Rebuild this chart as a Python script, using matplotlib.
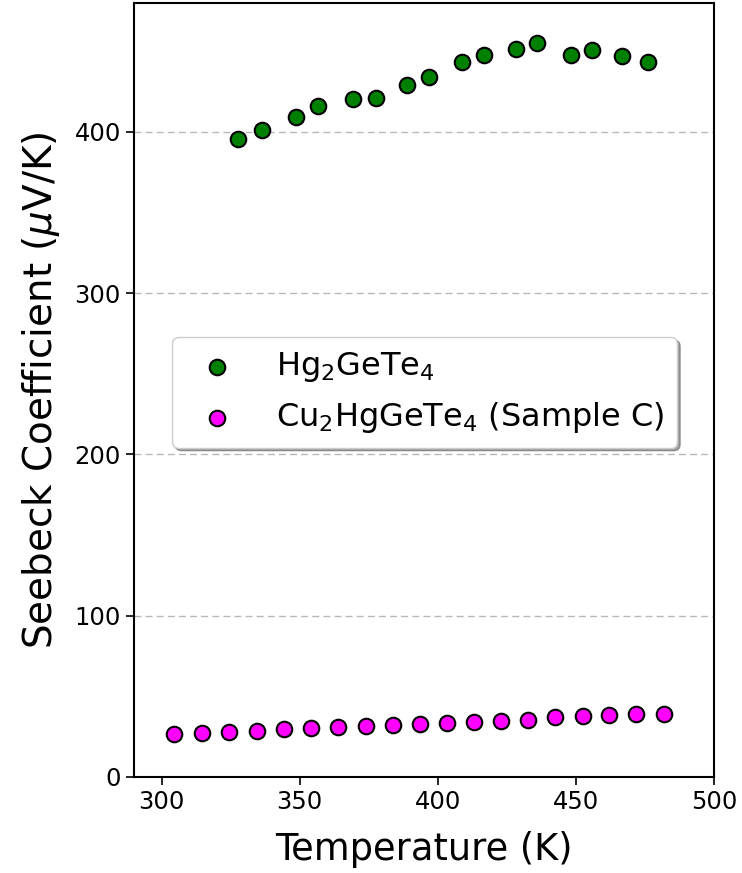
import matplotlib
matplotlib.use("Agg")
import matplotlib.pyplot as plt

# Hg2GeTe4
t_hg = [327.7, 336.3, 348.7, 356.6, 369.3, 377.6, 388.8, 396.8,
        408.8, 416.7, 428.3, 435.9, 448.2, 455.8, 466.7, 476.1]
s_hg = [395.8, 401.4, 409.4, 416.3, 420.6, 421.2, 429.3, 434.2,
        443.5, 447.9, 451.6, 455.3, 447.9, 451.0, 447.3, 443.5]

# Cu2HgGeTe4 (Sample C)
t_cu = [304.5, 314.5, 324.5, 334.4, 344.3, 354.2, 364.0, 373.9, 383.8, 393.7,
        403.4, 413.2, 422.9, 432.6, 442.4, 452.4, 462.0, 471.9, 482.0]
s_cu = [26.5, 27.5, 28.1, 28.7, 29.6, 30.2, 30.8, 31.6, 32.3, 32.9,
        33.7, 34.1, 34.9, 35.5, 37.0, 38.0, 38.6, 39.1, 39.3]

fig = plt.figure(figsize=(7.42, 8.73), dpi=100)
ax = fig.add_axes([0.1806, 0.110, 0.7817, 0.8866])

ax.scatter(t_hg, s_hg, s=125, color="green", edgecolors="black",
           linewidths=1.5, label=r"Hg$_2$GeTe$_4$", zorder=3)
ax.scatter(t_cu, s_cu, s=125, color="magenta", edgecolors="black",
           linewidths=1.5, label=r"Cu$_2$HgGeTe$_4$ (Sample C)", zorder=3)

ax.set_xlim(290, 500)
ax.set_ylim(0, 480)
ax.set_xticks([300, 350, 400, 450, 500])
ax.set_yticks([0, 100, 200, 300, 400])

ax.set_xlabel("Temperature (K)", fontsize=26.5, labelpad=12)
ax.set_ylabel(r"Seebeck Coefficient ($\mu$V/K)", fontsize=28, labelpad=9)
ax.tick_params(labelsize=17.5, length=6, width=1.2)
for sp in ax.spines.values():
    sp.set_linewidth(1.5)

ax.grid(axis="y", linestyle=(0, (5, 3)), color="#b8b8b8", linewidth=1.0)
ax.set_axisbelow(True)

ax.legend(loc="upper left", bbox_to_anchor=(0.066, 0.568), borderaxespad=0,
          fontsize=23, shadow=True, handletextpad=0.85)

fig.savefig("out.png", dpi=100)
